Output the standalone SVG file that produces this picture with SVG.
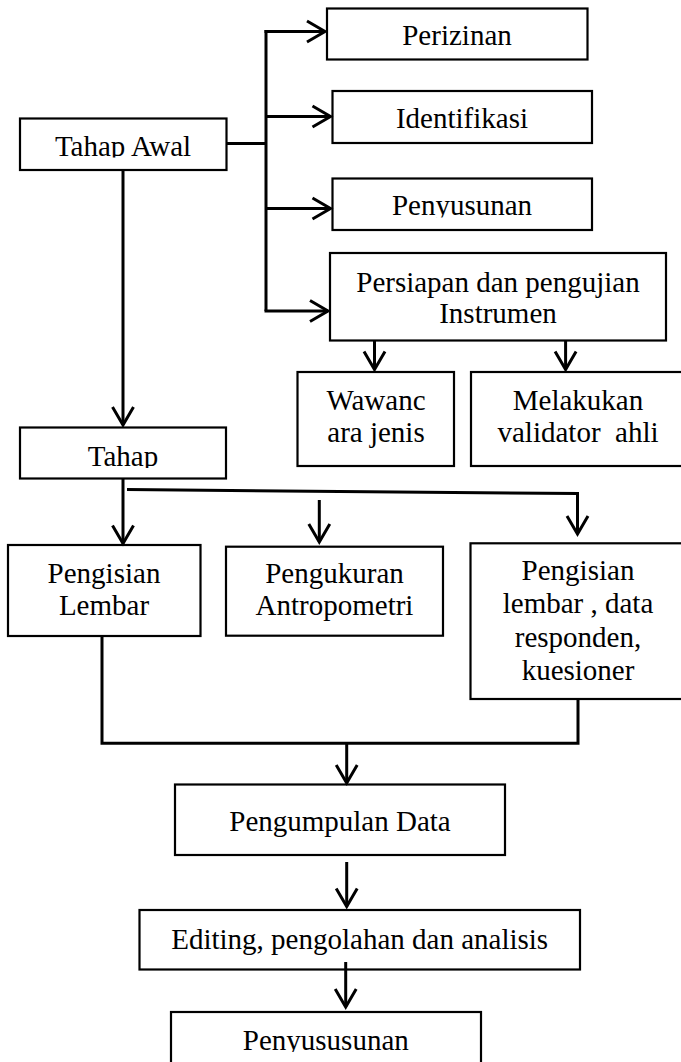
<svg xmlns="http://www.w3.org/2000/svg" width="681" height="1062" viewBox="0 0 681 1062">
<style>
.box{fill:#fff;stroke:#000;stroke-width:2.2}
.t{font-family:"Liberation Serif","Times New Roman",serif;font-size:29px;fill:#000;text-anchor:middle}
.c{fill:none;stroke:#000;stroke-width:3;stroke-linejoin:miter}
</style>
<defs>
<marker id="arr" markerUnits="userSpaceOnUse" viewBox="-22 -14 26 28" refX="0" refY="0" markerWidth="26" markerHeight="28" orient="auto">
<path d="M-18,-10.5 L0,0 L-18,10.5" fill="none" stroke="#000" stroke-width="3"/>
</marker>
<clipPath id="cpAwal"><rect x="0" y="0" width="681" height="157.5"/></clipPath>
<clipPath id="cpPenyusunan"><rect x="0" y="0" width="681" height="217.5"/></clipPath>
<clipPath id="cpTahap"><rect x="0" y="0" width="681" height="468"/></clipPath>
<clipPath id="cpAkhir"><rect x="0" y="0" width="681" height="1052"/></clipPath>
</defs>
<rect x="0" y="0" width="681" height="1062" fill="#fff"/>

<g id="nodes">
<g id="perizinan"><rect class="box" x="327" y="8.5" width="260.5" height="51"/><text class="t" x="457" y="45">Perizinan</text></g>
<g id="identifikasi"><rect class="box" x="332.5" y="91" width="259.5" height="52"/><text class="t" x="462" y="128">Identifikasi</text></g>
<g id="penyusunan"><rect class="box" x="332.5" y="178.5" width="259.5" height="51.5"/><text class="t" x="462" y="215" clip-path="url(#cpPenyusunan)">Penyusunan</text></g>
<g id="tahap-awal"><rect class="box" x="20" y="118.5" width="206.5" height="51.5"/><text class="t" x="123" y="156" clip-path="url(#cpAwal)">Tahap Awal</text></g>
<g id="persiapan"><rect class="box" x="330" y="253" width="336" height="87.5"/><text class="t" x="498" y="291.5">Persiapan dan pengujian</text><text class="t" x="498" y="322.5">Instrumen</text></g>
<g id="wawancara"><rect class="box" x="297.5" y="372" width="156.5" height="94"/><text class="t" x="376" y="410">Wawanc</text><text class="t" x="376" y="442">ara jenis</text></g>
<g id="validator"><rect class="box" x="471" y="372" width="215" height="94"/><text class="t" x="578" y="410">Melakukan</text><text class="t" x="578" y="442" xml:space="preserve">validator  ahli</text></g>
<g id="tahap"><rect class="box" x="20" y="427.5" width="206" height="51"/><text class="t" x="123" y="465.5" clip-path="url(#cpTahap)">Tahap</text></g>
<g id="pengisian-lembar"><rect class="box" x="8" y="545" width="192.5" height="91"/><text class="t" x="104" y="583">Pengisian</text><text class="t" x="104" y="615">Lembar</text></g>
<g id="pengukuran"><rect class="box" x="226" y="546.7" width="217" height="89"/><text class="t" x="334.5" y="583">Pengukuran</text><text class="t" x="334.5" y="615">Antropometri</text></g>
<g id="pengisian-data"><rect class="box" x="470.5" y="543.3" width="220" height="155.7"/><text class="t" x="578" y="580">Pengisian</text><text class="t" x="578" y="613">lembar , data</text><text class="t" x="578" y="646.5">responden,</text><text class="t" x="578" y="680">kuesioner</text></g>
<g id="pengumpulan"><rect class="box" x="175" y="784.5" width="330" height="70.5"/><text class="t" x="340" y="830.5">Pengumpulan Data</text></g>
<g id="editing"><rect class="box" x="139.5" y="910" width="440.5" height="59.5"/><text class="t" x="359.7" y="948.5">Editing, pengolahan dan analisis</text></g>
<g id="penyususunan"><rect class="box" x="171" y="1012" width="310" height="80"/><text class="t" x="325.8" y="1050" clip-path="url(#cpAkhir)">Penyususunan</text></g>
</g>

<g id="connectors">
<path class="c" d="M123,170 V425" marker-end="url(#arr)"/>
<path class="c" d="M226,143.5 H266"/>
<path class="c" d="M266,30 V311"/>
<path class="c" d="M264.5,31.5 H325" marker-end="url(#arr)"/>
<path class="c" d="M266,116.5 H330.5" marker-end="url(#arr)"/>
<path class="c" d="M266,208.5 H330.5" marker-end="url(#arr)"/>
<path class="c" d="M264.5,311 H328" marker-end="url(#arr)"/>
<path class="c" d="M374.5,341 V369.5" marker-end="url(#arr)"/>
<path class="c" d="M565.6,341 V369.5" marker-end="url(#arr)"/>
<path class="c" d="M123,478.5 V543.5" marker-end="url(#arr)"/>
<path class="c" d="M127,489.5 L577.5,493.5 V534" marker-end="url(#arr)"/>
<path class="c" d="M319.3,500 V542" marker-end="url(#arr)"/>
<path class="c" d="M102,636 V743.3 H578 V699"/>
<path class="c" d="M346.7,743.3 V783" marker-end="url(#arr)"/>
<path class="c" d="M346.7,862 V906.5" marker-end="url(#arr)"/>
<path class="c" d="M345.7,962 V1007" marker-end="url(#arr)"/>
</g>
</svg>
